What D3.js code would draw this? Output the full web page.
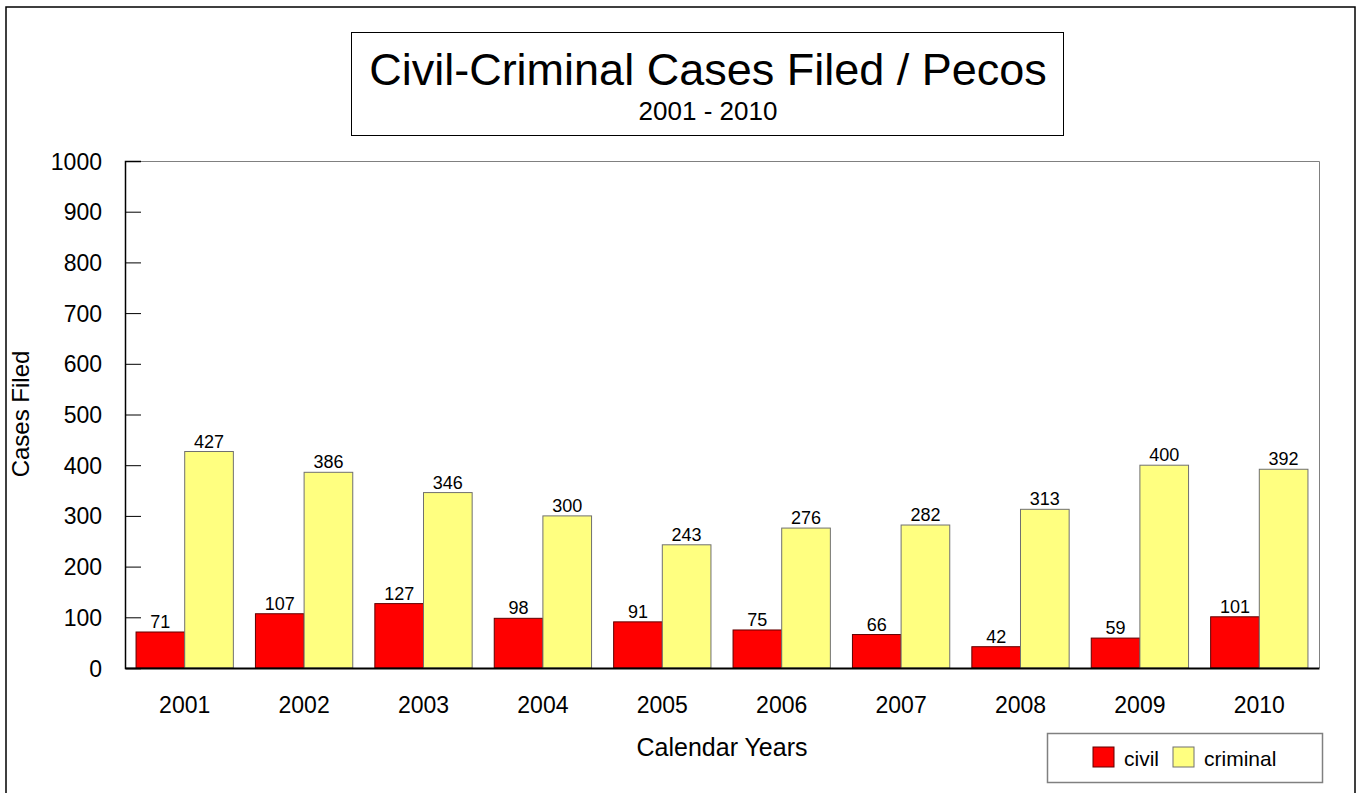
<!DOCTYPE html>
<html>
<head>
<meta charset="utf-8">
<script src="https://cdn.jsdelivr.net/npm/d3@7"></script>
<style>
  body { margin: 0; background: #fff; }
  text { font-family: "Liberation Sans", Arial, sans-serif; fill: #000; }
</style>
</head>
<body>
<svg id="chart" width="1359" height="793"></svg>
<script>
var years = ["2001", "2002", "2003", "2004", "2005", "2006", "2007", "2008", "2009", "2010"];
var civil = [71, 107, 127, 98, 91, 75, 66, 42, 59, 101];
var criminal = [427, 386, 346, 300, 243, 276, 282, 313, 400, 392];
var seriesNames = ["civil", "criminal"];
var yTicks = [0, 100, 200, 300, 400, 500, 600, 700, 800, 900, 1000];

var colors = { civil: "#ff0000", criminal: "#ffff80" };
var strokes = { civil: "#600000", criminal: "#707070" };

var svg = d3.select("#chart");
var plot = { left: 125, top: 161, right: 1319, bottom: 668 };

// outer frame
svg.append("rect")
  .attr("x", 6).attr("y", 7).attr("width", 1349).attr("height", 800)
  .attr("fill", "none").attr("stroke", "#000").attr("stroke-width", 1.5);

// title box
svg.append("rect")
  .attr("x", 351.5).attr("y", 32.5).attr("width", 712).attr("height", 103)
  .attr("fill", "#fff").attr("stroke", "#000").attr("stroke-width", 1);
svg.append("text")
  .attr("x", 708).attr("y", 85).attr("text-anchor", "middle")
  .style("font-size", "45px").text("Civil-Criminal Cases Filed / Pecos");
svg.append("text")
  .attr("x", 708).attr("y", 120).attr("text-anchor", "middle")
  .style("font-size", "26px").text("2001 - 2010");

var x = d3.scaleBand()
  .domain(years)
  .range([plot.left, plot.right])
  .paddingInner(0.185)
  .paddingOuter(0.0925);

var xs = d3.scaleBand()
  .domain(seriesNames)
  .range([0, x.bandwidth()]);

var y = d3.scaleLinear()
  .domain([0, 1000])
  .range([plot.bottom, plot.top]);

// plot area top/right border (gray)
svg.append("path")
  .attr("d", "M" + plot.left + "," + (plot.top + 0.5) + "H" + (plot.right + 0.5) + "V" + plot.bottom)
  .attr("fill", "none").attr("stroke", "#808080").attr("stroke-width", 1);

// y axis
var yAxis = d3.axisLeft(y).tickValues(yTicks).tickSize(-16).tickFormat(d3.format("d"));
var gy = svg.append("g").attr("transform", "translate(" + plot.left + ",0)").call(yAxis);
gy.select(".domain").attr("stroke", "#000").attr("stroke-width", 1.5);
gy.selectAll(".tick line").attr("stroke", "#000");
gy.selectAll(".tick text").style("font-size", "23px").attr("fill", "#000")
  .attr("x", -23).attr("dy", "0.35em");

// bars
var groups = svg.append("g").selectAll("g")
  .data(years)
  .join("g")
  .attr("transform", function (d) { return "translate(" + x(d) + ",0)"; });

groups.selectAll("rect")
  .data(function (d, i) {
    return [{ key: "civil", value: civil[i] }, { key: "criminal", value: criminal[i] }];
  })
  .join("rect")
  .attr("x", function (d) { return xs(d.key); })
  .attr("y", function (d) { return y(d.value); })
  .attr("width", xs.bandwidth())
  .attr("height", function (d) { return y(0) - y(d.value); })
  .attr("fill", function (d) { return colors[d.key]; })
  .attr("stroke", function (d) { return strokes[d.key]; })
  .attr("stroke-width", 1);

groups.selectAll("text.val")
  .data(function (d, i) {
    return [{ key: "civil", value: civil[i] }, { key: "criminal", value: criminal[i] }];
  })
  .join("text")
  .attr("class", "val")
  .attr("x", function (d) { return xs(d.key) + xs.bandwidth() / 2; })
  .attr("y", function (d) { return y(d.value) - 4; })
  .attr("text-anchor", "middle")
  .style("font-size", "18px")
  .text(function (d) { return d.value; });

// x axis
var xAxis = d3.axisBottom(x).tickSize(0).tickPadding(29);
var gx = svg.append("g").attr("transform", "translate(0," + plot.bottom + ")").call(xAxis);
gx.select(".domain").attr("stroke", "#000").attr("stroke-width", 2);
gx.selectAll(".tick text").style("font-size", "23px").attr("fill", "#000");

// axis titles
svg.append("text")
  .attr("x", 722).attr("y", 756).attr("text-anchor", "middle")
  .style("font-size", "25px").text("Calendar Years");
svg.append("text")
  .attr("transform", "translate(29,414) rotate(-90)")
  .attr("text-anchor", "middle")
  .style("font-size", "24px").text("Cases Filed");

// legend
var legend = svg.append("g");
legend.append("rect")
  .attr("x", 1047.5).attr("y", 733.5).attr("width", 275).attr("height", 49)
  .attr("fill", "#fff").attr("stroke", "#808080").attr("stroke-width", 1.5);
var legendX = [1093, 1173];
seriesNames.forEach(function (s, i) {
  legend.append("rect")
    .attr("x", legendX[i]).attr("y", 747).attr("width", 21).attr("height", 20)
    .attr("fill", colors[s]).attr("stroke", strokes[s]).attr("stroke-width", 1);
  legend.append("text")
    .attr("x", legendX[i] + 31).attr("y", 766)
    .style("font-size", "21px").text(s);
});
</script>
</body>
</html>
